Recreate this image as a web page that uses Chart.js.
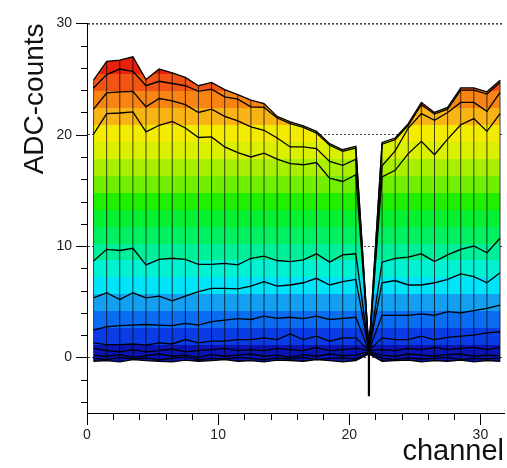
<!DOCTYPE html>
<html><head><meta charset="utf-8">
<script src="https://cdn.jsdelivr.net/npm/chart.js@4.4.1/dist/chart.umd.min.js"></script>
<style>html,body{margin:0;padding:0;background:#fff;}#wrap{width:507px;height:468px;}</style>
</head><body><div id="wrap"><canvas id="c" width="507" height="468"></canvas></div>
<script>
// ---- data ----
const channels = [0.5,1.5,2.5,3.5,4.5,5.5,6.5,7.5,8.5,9.5,10.5,11.5,12.5,13.5,14.5,15.5,16.5,17.5,18.5,19.5,20.5,21.5,22.5,23.5,24.5,25.5,26.5,27.5,28.5,29.5,30.5,31.5];
const sample1 = [24.9,26.6,26.7,27.0,24.95,25.9,25.55,25.15,24.4,24.7,24.05,23.6,23.1,22.8,21.65,21.15,20.8,20.3,19.2,18.65,18.95,0.6,19.3,19.7,21.0,22.9,22.0,22.45,24.2,24.2,23.85,24.9];
const sample2 = [24.2,25.4,25.9,25.7,24.4,24.8,24.6,24.4,23.9,24.1,23.4,23.2,22.5,22.45,21.5,21.0,20.65,20.15,19.05,18.5,18.8,0.6,19.15,19.55,20.85,22.7,21.85,22.3,24.0,24.0,23.65,24.7];
const sample3 = [22.3,23.75,23.85,23.9,22.5,23.25,23.05,22.7,22.0,22.3,21.65,21.25,20.7,20.4,19.7,18.9,18.9,18.75,17.6,17.25,17.8,0.6,17.2,18.55,20.6,21.9,21.3,22.0,22.9,22.9,22.1,23.8];
const sample4 = [20.05,21.9,21.95,22.05,20.25,20.85,21.2,20.6,19.75,19.8,18.9,18.4,18.0,18.35,17.8,17.4,17.3,17.5,16.1,15.8,16.4,0.6,16.2,16.8,18.3,19.4,18.2,19.6,20.9,21.45,20.3,21.9];
const sample5 = [8.65,9.7,9.6,9.8,8.3,8.8,8.9,8.8,8.35,8.35,8.45,8.3,8.9,9.1,8.7,8.6,8.75,9.3,8.55,9.2,9.3,0.6,8.55,8.9,9.0,9.3,8.6,9.2,9.7,10.0,9.4,10.7];
const sample6 = [5.35,5.8,5.2,5.8,5.35,5.5,5.07,5.5,5.9,6.2,6.2,6.15,6.4,6.8,6.4,6.5,6.7,7.1,6.5,6.8,7.0,0.6,6.7,6.9,6.5,6.5,6.7,7.0,7.5,7.25,6.7,7.6];
const sample7 = [2.45,2.75,2.85,2.9,2.95,2.9,2.85,3.05,2.9,3.2,3.35,3.48,3.4,3.7,3.5,3.6,3.48,3.7,3.4,3.5,3.6,0.6,3.77,3.77,3.77,3.9,3.77,4.1,4.0,4.2,4.4,4.7];
const sample8 = [1.3,1.15,1.15,1.2,1.1,1.3,1.2,1.6,1.3,1.45,1.45,1.6,1.6,1.75,1.6,2.1,1.6,1.9,1.45,1.75,1.75,0.6,1.75,1.6,1.6,1.9,1.6,1.8,1.9,2.0,2.2,2.3];
const sample9 = [0.8,0.6,0.5,0.7,0.5,0.6,0.75,0.5,0.6,0.7,0.8,0.6,0.7,0.6,0.8,0.7,0.6,0.9,0.6,0.7,0.8,0.6,0.7,0.6,0.8,0.7,0.9,0.7,0.8,0.9,0.7,0.9];
const sample10 = [0.2,0.1,0.25,0.0,0.15,0.3,0.1,0.2,0.0,0.25,0.1,0.2,0.3,0.1,0.2,0.0,0.25,0.1,0.3,0.15,0.2,0.5,0.2,0.1,0.3,0.2,0.1,0.25,0.3,0.1,0.2,0.15];
const sample11 = [-0.1,-0.2,0.0,-0.15,-0.05,-0.2,-0.1,0.05,-0.2,-0.1,-0.15,0.0,-0.1,-0.2,-0.05,-0.15,0.0,-0.2,-0.1,-0.05,-0.15,0.4,-0.1,-0.2,-0.05,-0.15,-0.1,0.0,-0.2,-0.1,-0.15,-0.05];
const sample12 = [-0.35,-0.3,-0.4,-0.2,-0.3,-0.35,-0.4,-0.25,-0.35,-0.3,-0.2,-0.35,-0.3,-0.4,-0.25,-0.3,-0.35,-0.2,-0.3,-0.4,-0.3,0.3,-0.35,-0.3,-0.25,-0.4,-0.3,-0.35,-0.25,-0.4,-0.3,-0.35];
// lowest single reading per channel (dead channel 21 undershoots)
const channelLow = [-0.35,-0.3,-0.4,-0.2,-0.3,-0.35,-0.4,-0.25,-0.35,-0.3,-0.2,-0.35,-0.3,-0.4,-0.25,-0.3,-0.35,-0.2,-0.3,-0.4,-0.3,-3.5,-0.35,-0.3,-0.25,-0.4,-0.3,-0.35,-0.25,-0.4,-0.3,-0.35];
const xTickValues = [0,2,4,6,8,10,12,14,16,18,20,22,24,26,28,30];
const yTickValues = [-4,-2,0,2,4,6,8,10,12,14,16,18,20,22,24,26,28,30];
const majorStep = 10;

// ---- style ----
const bandColors = ['#14006e','#1000a8','#0a14b4','#0a3ce6','#0a6cf0','#14a0f0','#00e4fa','#00f2d2','#00f09a','#00f060',
                    '#04f030','#20f000','#70f000','#a8f000','#daf000','#f4ec00','#f8b414','#f88414','#f25414','#e8200c'];
const FONT = "'Liberation Sans', Arial, Helvetica, sans-serif";

const series = [sample1,sample2,sample3,sample4,sample5,sample6,sample7,sample8,sample9,sample10,sample11,sample12];
const allVals = series.flat().concat(channelLow);
const zMin = Math.min(...allVals), zMax = Math.max(...allVals);
const upper = channels.map((c,i)=>Math.max(...series.map(s=>s[i])));
const lower = channels.map((c,i)=>Math.min(...series.map(s=>s[i])));
const pts = arr => channels.map((c,i)=>({x:c, y:arr[i]}));

let gradCache = null;
function bandFill(context){
  const chart = context.chart; const {chartArea, scales} = chart;
  if (!chartArea) return 'rgba(0,0,0,0)';
  const y0 = scales.y.getPixelForValue(zMin), y1 = scales.y.getPixelForValue(zMax);
  const key = y0+':'+y1;
  if (gradCache && gradCache.key === key) return gradCache.g;
  const g = chart.ctx.createLinearGradient(0, y0, 0, y1);
  const n = bandColors.length;
  for (let k=0;k<n;k++){ g.addColorStop(k/n, bandColors[k]); g.addColorStop((k+1)/n, bandColors[k]); }
  gradCache = {key, g};
  return g;
}

const datasets = [];
datasets.push({type:'line', data:pts(upper), borderWidth:0, borderColor:'rgba(0,0,0,0)', pointRadius:0, tension:0, fill:1, backgroundColor:bandFill, order:3});
datasets.push({type:'line', data:pts(lower), borderWidth:0, borderColor:'rgba(0,0,0,0)', pointRadius:0, tension:0, fill:false, order:3});
channels.forEach((c,i)=>{
  const under = channelLow[i] < lower[i];
  datasets.push({type:'line', data:[{x:c,y:channelLow[i]},{x:c,y:upper[i]}], borderWidth: under?2.2:1,
                 borderColor: under?'#000':'rgba(0,0,0,0.72)', pointRadius:0, fill:false, order:2});
});
series.forEach(s=>{
  datasets.push({type:'line', data:pts(s), borderWidth:1.3, borderColor:'#000', pointRadius:0, tension:0, fill:false, order:1});
});

const tickMarks = {
  id:'tickMarks',
  afterDraw(chart){
    const {ctx, chartArea, scales:{x,y}} = chart;
    ctx.save(); ctx.strokeStyle='#000'; ctx.lineWidth=1; ctx.beginPath();
    xTickValues.forEach(v=>{ const px=Math.round(x.getPixelForValue(v))+0.5; const len = v%majorStep===0?12:7; ctx.moveTo(px, chartArea.bottom); ctx.lineTo(px, chartArea.bottom+len); });
    yTickValues.forEach(v=>{ const py=Math.round(y.getPixelForValue(v))+0.5; const len = v%majorStep===0?11:6; ctx.moveTo(chartArea.left, py); ctx.lineTo(chartArea.left-len, py); });
    ctx.stroke(); ctx.restore();
  }
};

new Chart(document.getElementById('c'), {
  type:'line',
  data:{datasets},
  options:{
    responsive:false, animation:false, devicePixelRatio:1,
    layout:{padding:{left:0,right:3,top:10,bottom:0}},
    plugins:{legend:{display:false}, tooltip:{enabled:false}, filler:{drawTime:'beforeDatasetsDraw', propagate:false}},
    scales:{
      x:{type:'linear', min:0, max:31.8, offset:false,
         afterBuildTicks:s=>{ s.ticks = xTickValues.map(v=>({value:v})); },
         afterFit:s=>{ s.height = 55; },
         ticks:{autoSkip:false, maxRotation:0, padding:14, color:'#222', font:{family:FONT, size:14},
                callback:v=> (v%majorStep===0 ? String(v) : '')},
         grid:{drawTicks:false, color:'rgba(0,0,0,0)'},
         border:{display:true, color:'#000', width:1},
         title:{display:true, text:'channel', align:'end', color:'#111', font:{family:FONT, size:29, lineHeight:1}, padding:{top:0,bottom:1.5}}
      },
      y:{type:'linear', min:-5, max:30,
         afterBuildTicks:s=>{ s.ticks = yTickValues.map(v=>({value:v})); },
         afterFit:s=>{ s.width = 87; },
         ticks:{autoSkip:false, padding:15, color:'#222', font:{family:FONT, size:14},
                callback:v=> (v%majorStep===0 ? String(v) : '')},
         grid:{drawTicks:false, color:c=> (c.tick && c.tick.value%majorStep===0) ? '#444' : 'rgba(0,0,0,0)',
               lineWidth:c=> (c.tick && c.tick.value===30) ? 1.6 : 1},
         border:{display:true, color:'#000', width:1, dash:[2,2]},
         title:{display:true, text:'ADC-counts', align:'end', color:'#111', font:{family:FONT, size:28, lineHeight:1}, padding:{top:21,bottom:0}}
      }
    }
  },
  plugins:[tickMarks]
});
</script></body></html>
